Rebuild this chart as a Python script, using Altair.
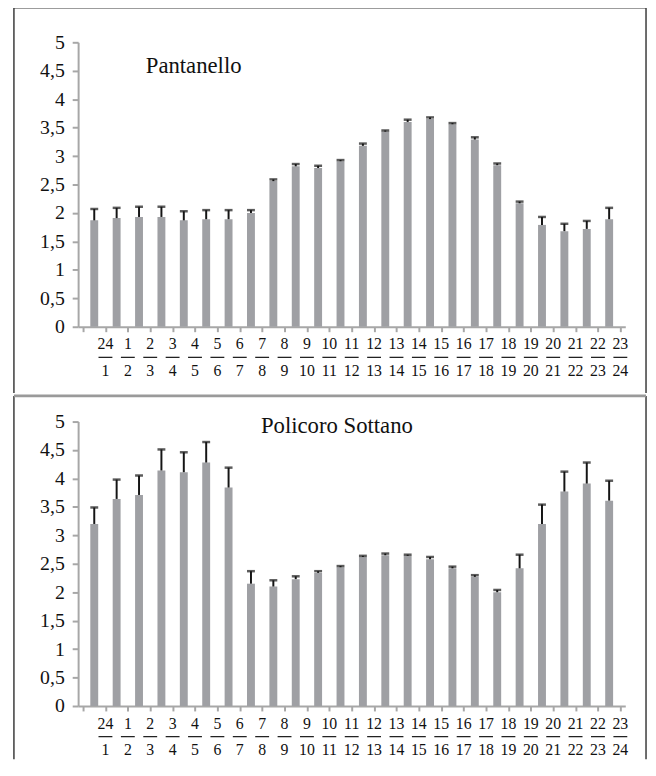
import altair as alt
import pandas as pd

# ---- data -------------------------------------------------------------
hours = ["24/1", "1/2", "2/3", "3/4", "4/5", "5/6", "6/7", "7/8", "8/9", "9/10",
         "10/11", "11/12", "12/13", "13/14", "14/15", "15/16", "16/17", "17/18",
         "18/19", "19/20", "20/21", "21/22", "22/23", "23/24"]

pant_mean = [1.87, 1.91, 1.93, 1.93, 1.87, 1.89, 1.89, 2.00, 2.56, 2.82, 2.79, 2.91,
             3.18, 3.43, 3.60, 3.65, 3.56, 3.29, 2.84, 2.17, 1.79, 1.68, 1.72, 1.89]
pant_upper = [2.07, 2.09, 2.11, 2.11, 2.03, 2.05, 2.05, 2.05, 2.59, 2.86, 2.83, 2.93,
              3.22, 3.45, 3.64, 3.68, 3.58, 3.33, 2.87, 2.20, 1.93, 1.81, 1.86, 2.09]

pol_mean = [3.20, 3.64, 3.71, 4.14, 4.11, 4.28, 3.84, 2.15, 2.10, 2.23, 2.34, 2.44,
            2.62, 2.65, 2.64, 2.58, 2.42, 2.27, 2.00, 2.42, 3.20, 3.77, 3.91, 3.61]
pol_upper = [3.49, 3.98, 4.05, 4.51, 4.46, 4.64, 4.19, 2.37, 2.21, 2.28, 2.37, 2.46,
             2.64, 2.68, 2.66, 2.62, 2.45, 2.30, 2.04, 2.66, 3.54, 4.12, 4.28, 3.96]

y_ticks = [0, 0.5, 1, 1.5, 2, 2.5, 3, 3.5, 4, 4.5, 5]

# ---- style ------------------------------------------------------------
FONT = "Liberation Serif"
BAR = "#9fa0a4"
AXIS_GRAY = "#a7a7a7"
FRAME = "#3a3a3a"
INK = "#151515"
W, H = 554, 288
N = len(hours)

X_AXIS = alt.Axis(values=list(range(N + 1)), labels=False, tickSize=5, title=None,
                  domainColor=AXIS_GRAY, domainWidth=2, tickColor=AXIS_GRAY,
                  tickWidth=2, grid=False)
Y_AXIS = alt.Axis(values=y_ticks, title=None,
                  labelExpr="replace(toString(datum.value), '.', ',')",
                  tickSize=6, labelPadding=8, labelFontSize=20, labelFont=FONT,
                  labelColor="#111111", labelFlush=False, labelOverlap=False,
                  domainColor=AXIS_GRAY, domainWidth=2, tickColor=AXIS_GRAY,
                  tickWidth=2, grid=False)
X_SCALE = alt.Scale(domain=[0, N], nice=False, zero=False)
Y_SCALE = alt.Scale(domain=[0, 5], nice=False)


def xq(field):
    return alt.X(field, type="quantitative", scale=X_SCALE, axis=X_AXIS)


def yq(field):
    return alt.Y(field, type="quantitative", scale=Y_SCALE, axis=Y_AXIS)


def panel(mean, upper, name, tx, ty, ftop, fbottom, top_is_divider):
    df = pd.DataFrame({"hour": hours, "mean": mean, "upper": upper})
    df["idx"] = range(N)
    df["center"] = df["idx"] + 0.5          # bar in the middle of its slot
    df["edge"] = df["idx"] + 1.0            # label sits at the right slot boundary
    df["lo"] = df["edge"] - 0.31
    df["hi"] = df["edge"] + 0.31
    df["num"] = df["hour"].str.split("/").str[0]
    df["den"] = df["hour"].str.split("/").str[1]

    base = alt.Chart(df)
    bars = base.mark_bar(size=8, color=BAR, orient="vertical").encode(
        x=xq("center"), y=yq("mean"))
    err = base.mark_rule(color=INK, strokeWidth=2).encode(
        x=xq("center"), y=yq("mean"), y2="upper:Q")
    cap = base.mark_tick(color=INK, size=8, thickness=2.5, orient="horizontal").encode(
        x=xq("center"), y=yq("upper"))

    num = base.mark_text(font=FONT, fontSize=16, color="#111111", baseline="middle").encode(
        x=xq("edge"), y=alt.value(H + 18), text="num:N")
    bar_line = base.mark_rule(color="#222222", strokeWidth=1.3).encode(
        x=xq("lo"), x2="hi:Q", y=alt.value(H + 31))
    den = base.mark_text(font=FONT, fontSize=16, color="#111111", baseline="middle").encode(
        x=xq("edge"), y=alt.value(H + 45), text="den:N")

    one = alt.Chart(pd.DataFrame({"k": [0]}))
    label = one.mark_text(text=name, font=FONT, fontSize=23, color="#111111",
                          align="center", baseline="alphabetic").encode(
        x=alt.value(tx), y=alt.value(ty))
    left = one.mark_rule(color=FRAME, strokeWidth=1.5).encode(
        x=alt.value(-65), y=alt.value(ftop), y2=alt.value(fbottom))
    right = one.mark_rule(color=FRAME, strokeWidth=1.5).encode(
        x=alt.value(575), y=alt.value(ftop), y2=alt.value(fbottom))
    if top_is_divider:
        top = one.mark_rule(color="#9a9a9a", strokeWidth=3).encode(
            x=alt.value(-65), x2=alt.value(575), y=alt.value(ftop))
    else:
        top = one.mark_rule(color=FRAME, strokeWidth=1.5).encode(
            x=alt.value(-65), x2=alt.value(575), y=alt.value(ftop))
    return alt.layer(bars, err, cap, num, bar_line, den, label, left, right, top).properties(
        width=W, height=H)


p1 = panel(pant_mean, pant_upper, "Pantanello", 117, 31, -35, 355, False)
p2 = panel(pol_mean, pol_upper, "Policoro Sottano", 262, 12, -26, 342, True)

chart = alt.vconcat(p1, p2, spacing=0).properties(
    padding={"left": 4, "top": -6, "right": 0, "bottom": 0},
    background="white",
).configure_view(strokeWidth=0).configure_axis(
    labelFont=FONT, labelFontSize=20, labelColor="#111111",
)

chart.save("out.html", embed_options={"renderer": "svg", "actions": False})
